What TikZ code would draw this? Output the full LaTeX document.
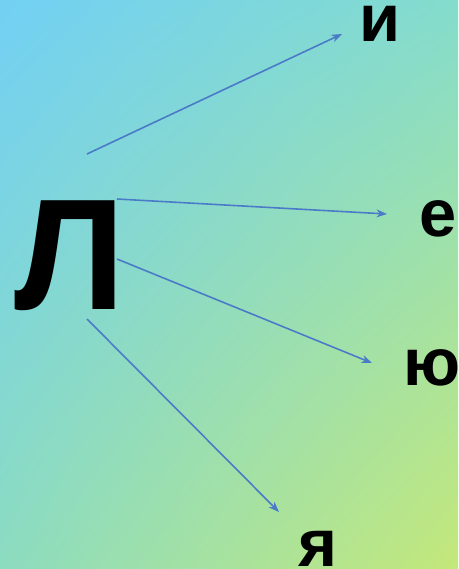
\documentclass[tikz,border=0pt]{standalone}
\usepackage{fontspec}
\setmainfont{Liberation Sans}
\usetikzlibrary{arrows.meta, shadings}
\definecolor{skyblue}{HTML}{72D0F4}
\definecolor{tealtop}{HTML}{84DCCC}
\definecolor{tealbot}{HTML}{8CDCC0}
\definecolor{limegreen}{HTML}{C4E87A}
\definecolor{arrowblue}{HTML}{4A7AC8}

\begin{document}
\begin{tikzpicture}[x=0.02cm, y=-0.02cm,
  big/.style={inner sep=0pt, font=\fontsize{90}{90}\selectfont\bfseries},
  small/.style={inner sep=0pt, font=\fontsize{38}{38}\selectfont\bfseries},
  link/.style={arrowblue, line width=0.9pt, -{Stealth[length=6pt, width=4.5pt]}}]
  % --- background ---
  \shade[upper left=skyblue, upper right=tealtop, lower left=tealbot, lower right=limegreen]
    (0,0) rectangle (458,569);
  \useasboundingbox (0,0) rectangle (458,569);

  % --- letters ---
  \node[big]   (L)  at (70,256) {Л};
  \node[small] (i)  at (380,24)  {и};
  \node[small] (e)  at (438,219) {е};
  \node[small] (yu) at (432,368) {ю};
  \node[small] (ya) at (318,549) {я};

  % --- arrow ends ---
  \coordinate (Li)  at (87,154);
  \coordinate (Le)  at (117,199);
  \coordinate (Lyu) at (117,259);
  \coordinate (Lya) at (87,319);
  \coordinate (ti)  at (342,34);
  \coordinate (te)  at (387,214);
  \coordinate (tyu) at (372,363);
  \coordinate (tya) at (279,512);

  \draw[link] (Li)  -- (ti);
  \draw[link] (Le)  -- (te);
  \draw[link] (Lyu) -- (tyu);
  \draw[link] (Lya) -- (tya);
\end{tikzpicture}
\end{document}
